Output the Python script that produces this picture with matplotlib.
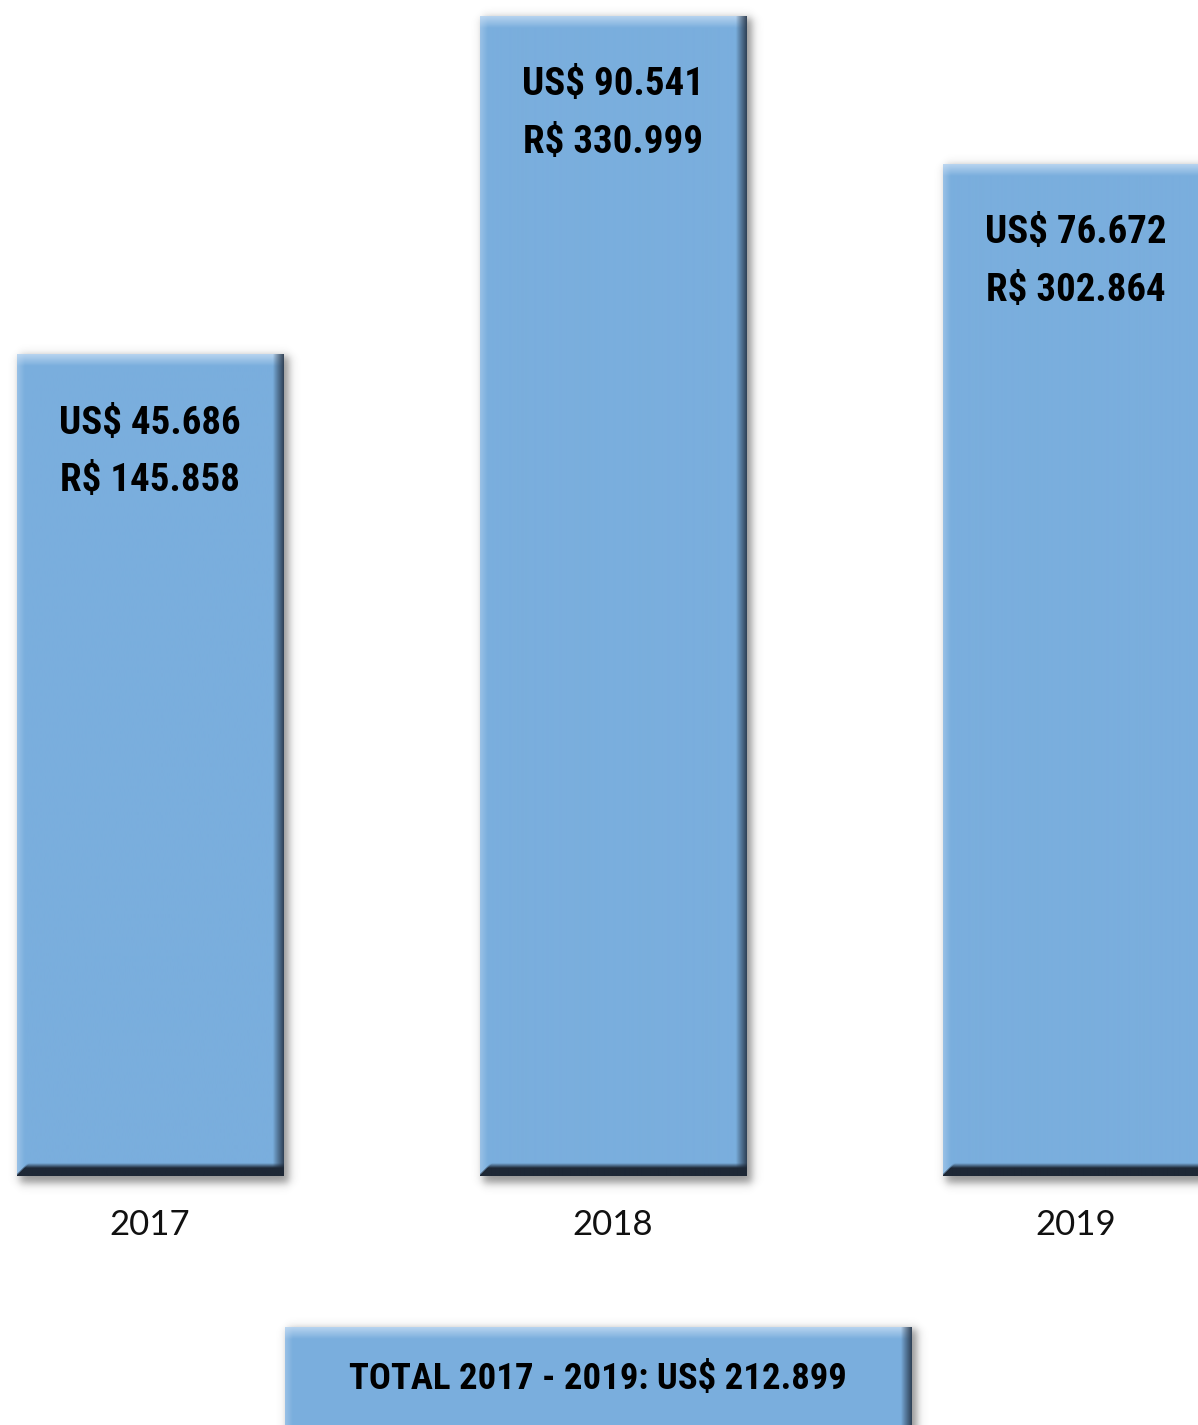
import numpy as np
import matplotlib
matplotlib.use("Agg")
import matplotlib.pyplot as plt
from matplotlib import font_manager as fm

# ---------------- data ----------------
years = ["2017", "2018", "2019"]
usd = [45686, 90541, 76672]
brl = [145858, 330999, 302864]
bar_heights = [0.708, 1.0, 0.872]   # relative bar heights as drawn in the picture

# ---------------- style ----------------
BASE = np.array([122, 174, 221]) / 255.0
LIGHT = np.array([200, 222, 244]) / 255.0
DARK_R = np.array([38, 52, 70]) / 255.0
DARK_B = np.array([30, 40, 54]) / 255.0

W_PX, H_PX, DPI = 1198, 1425, 100
fig = plt.figure(figsize=(W_PX / DPI, H_PX / DPI), dpi=DPI)
fig.patch.set_facecolor("white")
ax = fig.add_axes([0, 0, 1, 1])
PX_X, PX_Y = 463.0, 1160.0
ax.set_xlim(-150 / PX_X, (W_PX - 150) / PX_X)
ax.set_ylim(-249 / PX_Y, (H_PX - 249) / PX_Y)
ax.axis("off")

available = {f.name for f in fm.fontManager.ttflist}
label_family = next((f for f in ["Liberation Sans Narrow", "Roboto Condensed",
                                 "DejaVu Sans"] if f in available), "DejaVu Sans")
year_family = next((f for f in ["Lato", "Inter", "Noto Sans"] if f in available), "DejaVu Sans")


def fmt(v):
    return f"{v:,}".replace(",", ".")


def soft(d, s):
    return 0.5 * (1 + np.tanh(d / s))


def bevel_box(x0, y0, w, h, z=2):
    """Draw beveled box with drop shadow; geometry in data coords."""
    wp = max(int(round(w * PX_X)), 2)
    hp = max(int(round(h * PX_Y)), 2)
    # drop shadow
    m = 30
    xs = np.arange(-m, wp + m) + 0.5
    ys = np.arange(-m, hp + m) + 0.5
    off_x, off_y, sig = 5, 7, 5.0
    ax_ = soft(xs - off_x + 2, sig) * soft((wp + off_x) - xs, sig)
    ay_ = soft(ys - off_y + 5, sig) * soft((hp + off_y) - ys, sig)
    alpha = np.outer(ay_, ax_) * 0.55
    sh = np.zeros((len(ys), len(xs), 4))
    sh[..., :3] = 0.25
    sh[..., 3] = alpha
    ax.imshow(sh, extent=(x0 - m / PX_X, x0 + w + m / PX_X, y0 - m / PX_Y,
                          y0 + h + m / PX_Y),
              origin="upper", aspect="auto", zorder=z - 0.5,
              interpolation="bilinear")
    # body with bevels
    xi = np.arange(wp) + 0.5
    yi = np.arange(hp) + 0.5
    dl = xi[None, :].repeat(hp, 0)
    dr = (wp - xi)[None, :].repeat(hp, 0)
    dt = yi[:, None].repeat(wp, 1)
    db = (hp - yi)[:, None].repeat(wp, 1)
    img = np.ones((hp, wp, 3)) * BASE
    t = np.clip(1 - dt / 12, 0, 1) * 0.8
    img = img * (1 - t[..., None]) + LIGHT * t[..., None]
    l = np.clip(1 - dl / 8, 0, 1) * 0.4
    img = img * (1 - l[..., None]) + LIGHT * l[..., None]
    r = np.clip(1 - dr / 11, 0, 1) ** 0.9 * 0.9
    img = img * (1 - r[..., None]) + DARK_R * r[..., None]
    b = np.clip((13 - db) / 5, 0, 1)
    b = np.where(db < dl, b, b * np.clip(1 - (db - dl) / 3, 0, 1))
    img = img * (1 - b[..., None]) + DARK_B * b[..., None]
    ax.imshow(img, extent=(x0, x0 + w, y0, y0 + h), origin="upper",
              aspect="auto", zorder=z, interpolation="bilinear")


x = np.arange(len(years))
bars = ax.bar(x, bar_heights, width=0.575, color=BASE, zorder=1.8)
for bar, yr, u, rs in zip(bars, years, usd, brl):
    x0, w, h = bar.get_x(), bar.get_width(), bar.get_height()
    bevel_box(x0, 0, w, h)
    xc = x0 + w / 2
    ax.annotate(f"US$ {fmt(u)}\nR$ {fmt(rs)}", xy=(xc, h), xytext=(0, -70),
                textcoords="offset points", ha="center", va="center",
                fontsize=28, fontweight="bold", family=label_family,
                linespacing=1.72, zorder=5)
    ax.annotate(yr, xy=(xc, 0), xytext=(0, -35), textcoords="offset points",
                ha="center", va="center", fontsize=25, family=year_family,
                color="#111111", zorder=5)

# total box (bottom, partially cut off)
bx0 = (285 - 150) / PX_X
bx1 = (912 - 150) / PX_X
by1 = (H_PX - 249 - 1327) / PX_Y
by0 = (H_PX - 249 - 1445) / PX_Y
bevel_box(bx0, by0, bx1 - bx0, by1 - by0)
ax.set_xlim(-150 / PX_X, (W_PX - 150) / PX_X)
ax.set_ylim(-249 / PX_Y, (H_PX - 249) / PX_Y)
total = sum(usd)
ax.text((598 - 150) / PX_X, (H_PX - 249 - 1379) / PX_Y,
        f"TOTAL {years[0]} - {years[-1]}: US$ {fmt(total)}",
        ha="center", va="center", fontsize=26.5, fontweight="bold",
        family=label_family, zorder=5)

fig.savefig("out.png", dpi=DPI, facecolor="white")
